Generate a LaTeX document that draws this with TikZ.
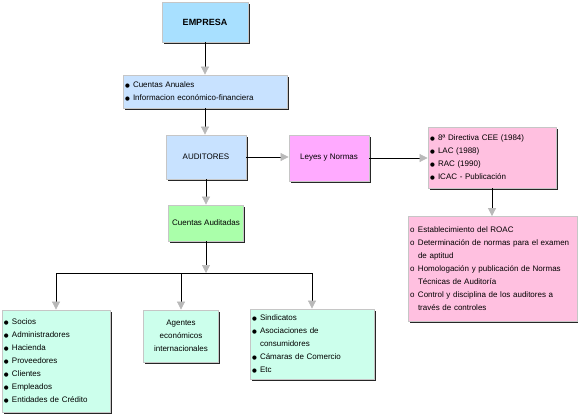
\documentclass[tikz,border=0pt]{standalone}
\usepackage{fontspec}
\setmainfont{Liberation Sans}
\newfontfamily\simbolos{DejaVu Sans}
\usetikzlibrary{arrows.meta, shadows}
\definecolor{empresaazul}{RGB}{168, 224, 255}
\definecolor{auditazul}{RGB}{200, 226, 255}
\definecolor{leyesvioleta}{RGB}{255, 170, 255}
\definecolor{normasrosa}{RGB}{255, 192, 224}
\definecolor{cuentasverde}{RGB}{170, 255, 170}
\definecolor{usuariosagua}{RGB}{204, 255, 236}
\newcommand{\punto}{\makebox[8pt][l]{\raisebox{0.6pt}{\simbolos\fontsize{5.5}{5.5}\selectfont ●}}}
\newcommand{\circulo}{\makebox[8pt][l]{o}}
\newcommand{\sangria}{\hspace*{8pt}}
\tikzset{
    caja/.style={draw=gray!45, line width=0.8pt, inner xsep=2pt, inner ysep=0pt,
        font=\fontsize{8}{13}\selectfont,
        drop shadow={shadow xshift=1.6pt, shadow yshift=-1.6pt, fill=black!85, opacity=1}},
    lista/.style={caja, align=left},
    flecha/.style={-{Triangle[length=8pt, width=8pt, fill=gray!55, color=gray!55]}, line width=0.7pt},
    linea/.style={line width=0.7pt}
}

\begin{document}
\begin{tikzpicture}[x=1pt, y=-1pt]
\useasboundingbox (0,0) rectangle (578,416);

% Upper column
\node[caja, fill=empresaazul, minimum width=86pt, minimum height=40pt,
    font=\fontsize{9}{11}\selectfont\bfseries] (empresa) at (205,22) {EMPRESA};
\node[lista, fill=auditazul, text width=160pt, minimum height=33pt] (anuales) at (205,91.5)
    {\punto Cuentas Anuales\\ \punto Informacion económico-financiera};
\node[caja, fill=auditazul, minimum width=80pt, minimum height=44pt] (auditores) at (206,157) {AUDITORES};
\node[caja, fill=cuentasverde, minimum width=75pt, minimum height=36pt] (ctasaud) at (206,223) {Cuentas Auditadas};

% Regulation branch
\node[caja, fill=leyesvioleta, minimum width=80pt, minimum height=46pt] (leyes) at (329,158) {Leyes y Normas};
\node[lista, fill=normasrosa, text width=124pt, minimum height=61pt] (directiva) at (492,157.5)
    {\punto 8ª Directiva CEE (1984)\\ \punto LAC (1988)\\ \punto RAC (1990)\\ \punto ICAC - Publicación};
\node[lista, fill=normasrosa, text width=165pt, minimum height=105pt] (roac) at (492.5,269)
    {\circulo Establecimiento del ROAC\\
     \circulo Determinación de normas para el examen\\ \sangria de aptitud\\
     \circulo Homologación y publicación de Normas\\ \sangria Técnicas de Auditoría\\
     \circulo Control y disciplina de los auditores a\\ \sangria través de controles};

% Users of the audited accounts
\node[lista, fill=usuariosagua, text width=104pt, minimum height=102pt] (grupos) at (56,361)
    {\punto Socios\\ \punto Administradores\\ \punto Hacienda\\ \punto Proveedores\\
     \punto Clientes\\ \punto Empleados\\ \punto Entidades de Crédito};
\node[caja, fill=usuariosagua, align=center, minimum width=75pt, minimum height=52pt] (agentes) at (181,336)
    {Agentes\\ económicos\\ internacionales};
\node[lista, fill=usuariosagua, text width=120pt, minimum height=70pt] (sindicatos) at (312,344)
    {\punto Sindicatos\\ \punto Asociaciones de\\ \sangria consumidores\\
     \punto Cámaras de Comercio\\ \punto Etc};

% Connectors
\draw[flecha] (empresa.south) -- (empresa.south |- anuales.north);
\draw[flecha] (anuales.south) -- (anuales.south |- auditores.north);
\draw[flecha] (auditores.south) -- (ctasaud.north);
\draw[flecha] (auditores.east) -- (auditores.east -| leyes.west);
\draw[flecha] (leyes.east) -- (leyes.east -| directiva.west);
\draw[flecha] (directiva.south) -- (directiva.south |- roac.north);

% Distribution to users
\coordinate (reparto) at (206,273);
\draw[flecha] (ctasaud.south) -- (reparto);
\draw[linea] (grupos.north |- reparto) -- (sindicatos.north |- reparto);
\foreach \destino in {grupos, agentes, sindicatos} {
    \draw[flecha] (\destino.north |- reparto) -- (\destino.north);
}

\end{tikzpicture}
\end{document}
